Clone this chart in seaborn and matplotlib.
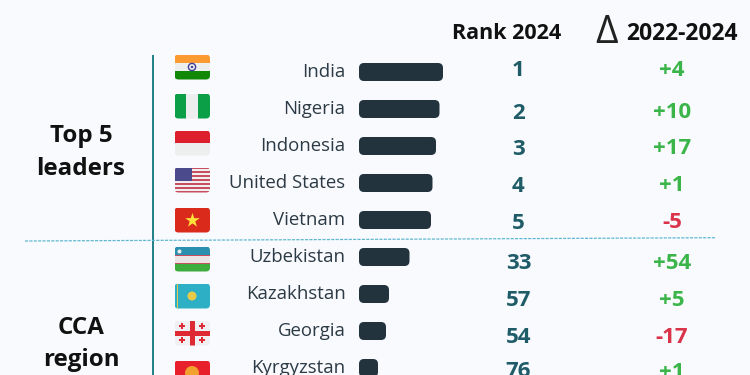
import matplotlib
matplotlib.use("Agg")
import matplotlib.pyplot as plt
from matplotlib.patches import FancyBboxPatch, Rectangle, Circle
import pandas as pd
import seaborn as sns

# ---------------------------------------------------------------
# DATA
# ---------------------------------------------------------------
countries = ["India", "Nigeria", "Indonesia", "United States", "Vietnam",
             "Uzbekistan", "Kazakhstan", "Georgia", "Kyrgyzstan"]
scores = [84, 80.5, 77, 73.5, 72, 50.5, 30, 27, 19]
ranks = ["1", "2", "3", "4", "5", "33", "57", "54", "76"]
deltas = ["+4", "+10", "+17", "+1", "-5", "+54", "+5", "-17", "+1"]

BG = "#F9FAFE"
DARK = "#22333D"
TEAL = "#1F7F85"
RANK_COL = "#1F5C68"
GREEN = "#3BB54A"
RED = "#D9344A"
FONT = "Open Sans"

# vertical layout, pixels from the top
flag_y = [67, 106, 143, 180, 220, 259, 296, 333, 373]
label_y = [72, 109, 146, 183, 220, 257, 294, 331, 368]
rank_y = [70.5, 113.5, 149.5, 186.5, 223.5, 263.5, 300.5, 337.5, 371.5]
delta_y = [70.5, 112.5, 148.5, 185.5, 222.5, 263.5, 300.5, 337.5, 372.5]

sns.set_theme(style="white")
plt.rcParams["font.family"] = [FONT, "DejaVu Sans"]

fig = plt.figure(figsize=(7.5, 3.75), dpi=100, facecolor=BG)

# page axes in pixels
ax = fig.add_axes([0, 0, 1, 1])
ax.set_xlim(0, 750)
ax.set_ylim(375, 0)
ax.axis("off")


# ---------------------------------------------------------------
# FLAGS
# ---------------------------------------------------------------
def flag(row, stripes=None, vertical=False):
    x0, y0, w, h = 174.5, flag_y[row] - 12.5, 35.5, 25
    clip = FancyBboxPatch((x0, y0), w, h, boxstyle="round,pad=0,rounding_size=4",
                          fc="none", ec="none")
    ax.add_patch(clip)
    arts = []
    n = len(stripes)
    for i, c in enumerate(stripes):
        if vertical:
            r = Rectangle((x0 + i * w / n, y0), w / n, h, fc=c, ec="none")
        else:
            r = Rectangle((x0, y0 + i * h / n), w, h / n, fc=c, ec="none")
        ax.add_patch(r)
        arts.append(r)
    for r in arts:
        r.set_clip_path(clip)
    return clip, x0, y0, w, h


def extra(clip, art):
    ax.add_patch(art)
    art.set_clip_path(clip)


flag(0, ["#FB9A30", "#EDEEEE", "#128807"])
ax.add_patch(Circle((192, 67), 3.6, fc="#EDEEEE", ec="#3F3F9A", lw=1))
ax.add_patch(Circle((192, 67), 1.2, fc="#3F3F9A", ec="none"))

flag(1, ["#0B9F47", "#EDEEEE", "#0B9F47"], vertical=True)

flag(2, ["#DD1F2D", "#EDEEEE"])

clip, x0, y0, w, h = flag(3, ["#C8505C", "#F0EEF0"] * 6 + ["#C8505C"])
extra(clip, Rectangle((x0, y0), 17, 13.5, fc="#4A4A8C", ec="none"))

flag(4, ["#DA2A1C"])
ax.scatter([192], [220], marker="*", s=120, color="#FFE23A", zorder=5, linewidths=0)

clip, x0, y0, w, h = flag(5, ["#2B8FB0", "#EDE4E6", "#3DAE3E"])
extra(clip, Rectangle((x0, y0 + 8), w, 1.2, fc="#C8505C", ec="none"))
extra(clip, Rectangle((x0, y0 + 16), w, 1.2, fc="#C8505C", ec="none"))
ax.add_patch(Circle((179.5, 251.5), 2, fc="#EDEEEE", ec="none"))

clip, x0, y0, w, h = flag(6, ["#2DB0C6"])
extra(clip, Rectangle((x0 + 2, y0), 1.5, h, fc="#E5C64A", ec="none"))
ax.add_patch(Circle((192, 296), 4.5, fc="#E8C94A", ec="none"))

clip, x0, y0, w, h = flag(7, ["#F0F0F2"])
extra(clip, Rectangle((x0 + w / 2 - 2.5, y0), 5, h, fc="#DD2A33", ec="none"))
extra(clip, Rectangle((x0, y0 + h / 2 - 2.5), w, 5, fc="#DD2A33", ec="none"))
ax.scatter([182, 202, 182, 202], [326, 326, 340, 340], marker="P", s=16,
           color="#DD2A33", linewidths=0, zorder=5)

flag(8, ["#E8202C"])
ax.add_patch(Circle((192, 373), 7, fc="#F2A02E", ec="none", zorder=5))

# ---------------------------------------------------------------
# BARS
# ---------------------------------------------------------------
df = pd.DataFrame({"country": countries, "score": scores})

# one bar unit is one pixel wide, one row is 37 pixels tall
bar_ax = fig.add_axes([359 / 750, 1 - 386.5 / 375, 100 / 750, 333 / 375])
sns.barplot(data=df, x="score", y="country", color=DARK, saturation=1,
            width=18 / 37, ax=bar_ax)
bar_ax.set_xlim(0, 100)
bar_ax.patch.set_alpha(0)
bar_ax.axis("off")

for p in list(bar_ax.patches):
    x, y, wd, ht = p.get_x(), p.get_y(), p.get_width(), p.get_height()
    p.remove()
    bar_ax.add_patch(FancyBboxPatch((x, y), wd, ht, mutation_aspect=1 / 37,
                                    boxstyle="round,pad=0,rounding_size=5",
                                    fc=DARK, ec="none"))

# ---------------------------------------------------------------
# TEXT
# ---------------------------------------------------------------
for name, y in zip(countries, label_y):
    ax.text(345.5, y, name, ha="right", va="center", fontsize=13.4, color="#2B3A44")

for r, y in zip(ranks, rank_y):
    ax.text(518.5, y, r, ha="center", va="center", fontsize=16, fontweight="bold",
            color=RANK_COL)

for d, y in zip(deltas, delta_y):
    ax.text(672, y, d, ha="center", va="center", fontsize=16, fontweight="bold",
            color=GREEN if d.startswith("+") else RED)

ax.text(507, 33.5, "Rank 2024", ha="center", va="center", fontsize=15.5,
        fontweight="bold", color="#111111")
ax.text(606.5, 33, "Δ", ha="center", va="center", fontsize=28, color="#222222")
ax.text(681.5, 33.5, "2022-2024", ha="center", va="center", fontsize=16.5,
        fontweight="bold", color="#111111")

ax.text(81, 135.5, "Top 5", ha="center", va="center", fontsize=17.4, fontweight="bold",
        color="#111111")
ax.text(81, 169, "leaders", ha="center", va="center", fontsize=17.4, fontweight="bold",
        color="#111111")
ax.text(81, 328, "CCA", ha="center", va="center", fontsize=17.4, fontweight="bold",
        color="#111111")
ax.text(81, 360, "region", ha="center", va="center", fontsize=17.4, fontweight="bold",
        color="#111111")

# ---------------------------------------------------------------
# RULES
# ---------------------------------------------------------------
ax.plot([153.3, 153.3], [55, 375], color=TEAL, lw=1.4, solid_capstyle="butt")
ax.plot([25, 715], [241, 237.7], color="#5FB8D0", lw=0.9, ls=(0, (2.5, 1)))

fig.savefig("out.png", dpi=100, facecolor=BG)
